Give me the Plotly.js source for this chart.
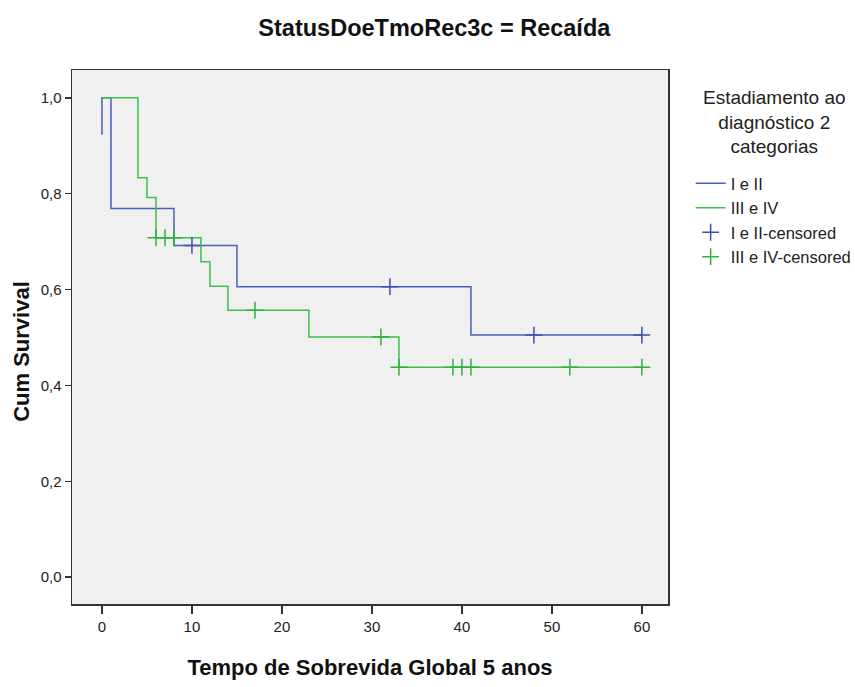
<!DOCTYPE html>
<html>
<head>
<meta charset="utf-8">
<script src="https://cdn.plot.ly/plotly-3.0.1.min.js"></script>
<style>
  html, body { margin: 0; padding: 0; background: #ffffff; }
  #chart { width: 855px; height: 687px; }
</style>
</head>
<body>
<div id="chart"></div>
<script>
// Kaplan-Meier step curves (time in months, cumulative survival)
const groupNames = ["I e II", "III e IV"];
const timeI = [0, 0, 1, 8, 15, 41, 60];
const survI = [0.923, 1.0, 0.769, 0.692, 0.606, 0.505, 0.505];
const timeIII = [0, 4, 5, 6, 11, 12, 14, 23, 33, 60];
const survIII = [1.0, 0.833, 0.792, 0.708, 0.658, 0.607, 0.557, 0.501, 0.438, 0.438];

// Censored observations
const censTimeI = [10, 32, 48, 60];
const censSurvI = [0.692, 0.606, 0.505, 0.505];
const censTimeIII = [6, 7, 8, 17, 31, 33, 39, 40, 41, 52, 60];
const censSurvIII = [0.708, 0.708, 0.708, 0.557, 0.501, 0.438, 0.438, 0.438, 0.438, 0.438, 0.438];

// Axis ticks
const xTicks = [0, 10, 20, 30, 40, 50, 60];
const yTicks = [0, 0.2, 0.4, 0.6, 0.8, 1.0];

const blue = "#4a60b8";
const green = "#3cc04a";
const font = "Liberation Sans, Arial, sans-serif";

const traces = [
  {
    x: timeI, y: survI, name: groupNames[0], type: "scatter", mode: "lines",
    line: { color: blue, width: 1.5, shape: "hv" }
  },
  {
    x: timeIII, y: survIII, name: groupNames[1], type: "scatter", mode: "lines",
    line: { color: green, width: 1.5, shape: "hv" }
  },
  {
    x: censTimeI, y: censSurvI, name: groupNames[0] + "-censored", type: "scatter", mode: "markers",
    marker: { symbol: "cross-thin", size: 12, line: { color: "#3a4fae", width: 1.5 } }
  },
  {
    x: censTimeIII, y: censSurvIII, name: groupNames[1] + "-censored", type: "scatter", mode: "markers",
    marker: { symbol: "cross-thin", size: 12, line: { color: "#2fb03e", width: 1.5 } }
  }
];

const layout = {
  width: 855, height: 687,
  margin: { l: 72, r: 187, t: 70, b: 83, autoexpand: false },
  paper_bgcolor: "#ffffff",
  plot_bgcolor: "#f0f0f0",
  separators: ",.",
  font: { family: font, color: "#222222" },
  title: {
    text: "<b>StatusDoeTmoRec3c = Recaída</b>",
    font: { family: font, size: 23.5, color: "#111111" },
    x: 0.508, xref: "container", xanchor: "center", y: 0.96, yref: "container", yanchor: "middle"
  },
  xaxis: {
    range: [-3.33, 62.9],
    tickvals: xTicks,
    ticks: "outside", ticklen: 8, tickwidth: 1.5, tickcolor: "#333333",
    tickfont: { size: 15, color: "#222222" },
    showgrid: false, zeroline: false,
    showline: true, linecolor: "#333333", linewidth: 1.5, mirror: true,
    title: { text: "<b>Tempo de Sobrevida Global 5 anos</b>", font: { size: 22, color: "#111111" }, standoff: 26 }
  },
  yaxis: {
    range: [-0.056, 1.058],
    tickvals: yTicks, tickformat: ".1f",
    ticks: "outside", ticklen: 6, tickwidth: 1.5, tickcolor: "#333333",
    tickfont: { size: 15, color: "#222222" },
    showgrid: false, zeroline: false,
    showline: true, linecolor: "#333333", linewidth: 1.5, mirror: true
  },
  annotations: [
    {
      // y-axis title, sitting a little below the plot's centre line
      text: "<b>Cum Survival</b>", textangle: -90,
      xref: "paper", yref: "paper", x: -0.084, y: 0.474,
      xanchor: "center", yanchor: "middle", showarrow: false,
      font: { size: 22, color: "#111111" }
    },
    {
      // legend heading, centred over the legend entries
      text: "Estadiamento ao<br>diagnóstico 2<br>categorias", align: "center",
      xref: "paper", yref: "paper", x: 1.1795, y: 0.972,
      xanchor: "center", yanchor: "top", showarrow: false,
      font: { size: 19, color: "#222222" }
    }
  ],
  showlegend: true,
  legend: {
    x: 1.038, xanchor: "left", y: 0.82, yanchor: "top",
    bgcolor: "rgba(0,0,0,0)",
    font: { size: 16.5, color: "#222222" },
    itemwidth: 30
  }
};

Plotly.newPlot("chart", traces, layout, { displayModeBar: false, staticPlot: true });
</script>
</body>
</html>
